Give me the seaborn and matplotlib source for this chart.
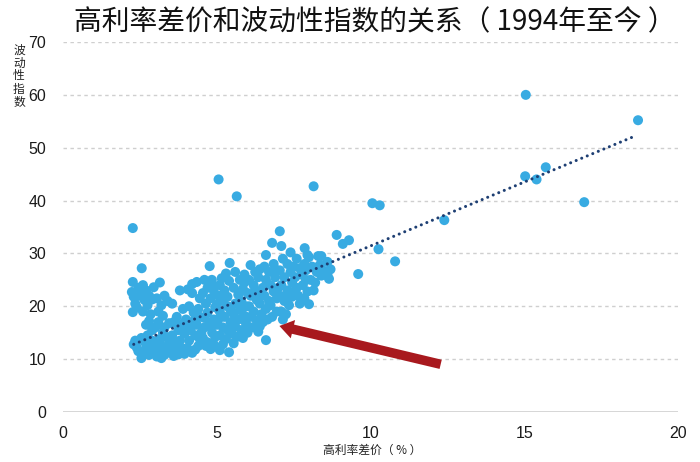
import numpy as np
import pandas as pd
import matplotlib
matplotlib.use("Agg")
import matplotlib.pyplot as plt
import seaborn as sns

# ---------------- data ----------------
spread = [
    2.27, 2.27, 2.24, 2.3, 2.35, 2.27, 2.4, 2.3, 2.4, 2.45, 2.35, 2.45, 2.5,
    2.56, 2.6, 2.7, 2.65, 2.8, 2.75, 2.6, 2.85, 2.9, 2.95, 2.55, 2.6, 2.7, 2.65, 2.8, 2.75, 2.85, 2.9, 2.95, 2.55, 2.7, 2.9, 2.8,
    3.15, 3.05, 3.2, 3.1, 3.3, 3.4, 3.25, 3.0, 3.05, 3.1, 3.2, 3.15, 3.3, 3.35, 3.25, 3.4, 3.45, 3.0, 3.1, 3.35, 3.45, 3.2, 3.3, 3.5,
    3.6, 3.65, 3.7, 3.8, 3.55, 3.75, 3.9, 3.85, 3.6, 3.95, 3.7, 3.8, 3.9, 3.55, 3.65, 3.75, 3.95, 3.85, 4.0, 3.9,
    4.06, 4.2, 4.35, 4.1, 4.25, 4.4, 4.05, 4.1, 4.2, 4.3, 4.15, 4.4, 4.35, 4.45, 4.25, 4.5, 4.1, 4.3, 4.45, 4.2, 4.45, 4.5,
    4.6, 4.77, 4.84, 4.7, 4.55, 4.9, 4.65, 4.8, 4.95, 4.6, 4.75, 4.9, 4.55, 4.7, 4.85, 4.95, 4.65, 4.8, 4.6, 4.9, 5.0, 4.7, 4.85,
    5.06, 5.16, 5.3, 5.42, 5.1, 5.25, 5.4, 5.05, 5.2, 5.35, 5.1, 5.25, 5.45, 5.05, 5.2, 5.35, 5.45, 5.1, 5.3, 5.1, 5.4, 5.2, 5.5, 5.35, 5.0,
    5.65, 5.6, 5.75, 5.9, 5.55, 5.7, 5.85, 5.6, 5.8, 5.95, 5.55, 5.7, 5.9, 5.6, 5.8, 5.95, 5.65, 5.85, 5.55, 6.0, 5.75, 5.9,
    6.1, 6.25, 6.4, 6.05, 6.2, 6.35, 6.5, 6.1, 6.3, 6.45, 6.05, 6.2, 6.4, 6.1, 6.3, 6.45, 6.15, 6.35, 6.0, 6.5, 6.25, 6.4,
    6.6, 6.8, 6.55, 6.7, 6.85, 6.6, 6.75, 6.9, 6.55, 6.7, 6.85, 6.6, 6.75, 6.95, 6.65, 6.8, 6.6, 6.9, 7.0, 6.95,
    7.05, 7.1, 7.4, 7.15, 7.3, 7.05, 7.2, 7.4, 7.1, 7.3, 7.45, 7.05, 7.2, 7.35, 7.1, 7.25, 7.45, 7.5, 7.3, 7.15,
    7.86, 7.95, 7.6, 7.7, 7.85, 7.55, 7.75, 7.9, 7.6, 7.8, 7.95, 7.65, 7.85, 8.0, 7.7, 7.55, 7.9,
    8.0, 8.3, 8.4, 8.15, 8.1, 8.25, 8.4, 8.05, 8.2, 8.35, 8.15, 8.45,
    8.6, 8.6, 8.65, 8.7, 8.9,
    9.1, 9.3, 9.6, 10.06, 10.3, 10.26, 10.8,
    12.4, 15.05, 15.03, 15.4, 15.7, 16.95, 18.7,
]
volatility = [
    34.8, 24.6, 22.7, 21.8, 20.5, 18.9, 19.8, 12.8, 12.2, 11.5, 13.5, 23.5, 22.0,
    27.2, 24.0, 23.0, 21.2, 22.0, 20.2, 19.0, 18.5, 21.3, 23.6, 10.2, 11.0, 12.0, 13.3, 10.8, 14.5, 12.5, 15.5, 11.5, 14.0, 16.5, 13.5, 17.2,
    24.5, 21.5, 20.2, 19.0, 22.0, 21.0, 18.2, 16.0, 10.5, 11.5, 12.5, 13.8, 10.8, 12.0, 15.0, 14.0, 16.8, 13.0, 17.0, 11.2, 13.0, 10.2, 16.0, 11.5,
    10.6, 12.5, 11.5, 13.5, 14.5, 15.5, 12.0, 16.5, 17.0, 14.8, 18.0, 23.0, 19.5, 20.5, 13.2, 10.9, 11.0, 11.8, 17.5, 15.8,
    23.2, 24.2, 24.6, 20.0, 18.8, 19.5, 12.0, 13.5, 11.2, 14.5, 15.5, 12.5, 16.5, 13.8, 17.2, 15.0, 16.8, 11.8, 18.0, 22.5, 21.5, 12.8,
    25.0, 27.6, 25.0, 23.5, 22.5, 23.0, 20.5, 21.5, 19.8, 17.8, 16.5, 17.5, 14.0, 13.2, 15.0, 14.2, 12.5, 11.9, 16.0, 12.8, 16.5, 18.8, 24.2,
    44.0, 25.3, 26.2, 28.2, 24.0, 23.0, 24.8, 22.0, 21.0, 20.0, 19.0, 18.0, 19.2, 17.5, 16.0, 15.5, 17.0, 14.5, 13.8, 11.7, 11.3, 12.8, 14.8, 21.8, 20.3,
    40.8, 26.5, 25.0, 26.0, 23.5, 22.2, 23.3, 20.5, 21.0, 20.0, 18.5, 17.5, 18.2, 16.2, 15.5, 16.8, 14.2, 14.0, 13.0, 22.5, 19.3, 24.5,
    27.8, 26.5, 27.0, 25.0, 24.0, 25.5, 23.5, 22.0, 21.2, 22.5, 20.0, 19.0, 20.5, 18.0, 17.3, 18.5, 16.0, 15.2, 15.0, 17.0, 23.0, 16.2,
    29.7, 32.0, 27.5, 26.5, 28.0, 25.0, 24.0, 25.5, 22.0, 21.0, 22.8, 19.5, 20.2, 19.0, 17.5, 18.0, 13.6, 27.0, 23.5, 21.5,
    34.2, 31.4, 30.2, 29.0, 28.0, 26.8, 25.5, 26.5, 24.0, 23.0, 24.5, 22.0, 21.0, 20.2, 19.0, 18.5, 21.8, 27.5, 22.5, 17.5,
    31.0, 29.7, 29.0, 27.2, 28.0, 25.5, 26.0, 25.0, 23.5, 24.0, 22.8, 22.0, 21.5, 20.4, 20.5, 23.0, 26.8,
    29.3, 29.5, 29.5, 42.7, 27.5, 26.5, 25.8, 25.0, 24.5, 27.8, 23.0, 26.8,
    28.4, 26.0, 25.2, 27.0, 33.5,
    31.8, 32.5, 26.1, 39.5, 39.1, 30.8, 28.5,
    36.3, 60.0, 44.6, 44.0, 46.3, 39.7, 55.2,
]
trend_x = [2.3, 18.6]
trend_y = [12.8, 52.2]
arrow_tail = (12.37, 8.9)
arrow_head = (6.95, 16.4)

x_ticks = [0, 5, 10, 15, 20]
y_ticks = [0, 10, 20, 30, 40, 50, 60, 70]

title = "高利率差价和波动性指数的关系（ 1994年至今 ）"
x_label = "高利率差价（ % ）"
y_label = "波动性指数"

df = pd.DataFrame({"spread": spread, "volatility": volatility})
trend = pd.DataFrame({"x": trend_x, "y": trend_y})

# ---------------- plot ----------------
sns.set_style("white")
plt.rcParams["font.family"] = ["Liberation Sans", "Noto Sans CJK SC", "DejaVu Sans"]
cjk = ["Noto Sans CJK SC", "DejaVu Sans"]

fig = plt.figure(figsize=(7.0, 4.62), dpi=100)
ax = fig.add_axes([63 / 700, 1 - 412 / 462, (678 - 63) / 700, (412 - 42) / 462])

for yv in y_ticks[1:]:
    ax.axhline(yv, color="#cfcfcf", lw=1.0, ls=(0, (2.5, 2.5)), zorder=0)
ax.axhline(0, color="#d0d0d0", lw=1.2, zorder=0)

sns.scatterplot(data=df, x="spread", y="volatility", ax=ax, s=52,
                color="#38ABE2", edgecolor="none", linewidth=0, zorder=2)
sns.lineplot(data=trend, x="x", y="y", ax=ax, color="#1E3F73", lw=2.2,
             linestyle=(0, (0.01, 1.95)), dash_capstyle="round", zorder=3)

ax.annotate("", xy=arrow_head, xytext=arrow_tail,
            arrowprops=dict(arrowstyle="simple,head_width=1.35,head_length=1.0,tail_width=0.68",
                            mutation_scale=10, color="#A8191E", lw=0),
            zorder=4)

ax.set_xlim(0, 20)
ax.set_ylim(0, 70)
ax.set_xticks(x_ticks)
ax.set_yticks(y_ticks)
ax.set_xticklabels([str(v) for v in x_ticks])
ax.set_yticklabels([str(v) for v in y_ticks])
ax.tick_params(axis="both", length=0, labelsize=11.5, colors="#1a1a1a")
ax.tick_params(axis="y", pad=12)
ax.tick_params(axis="x", pad=10)
for s in ax.spines.values():
    s.set_visible(False)
ax.set_xlabel("")
ax.set_ylabel("")

fig.text(372 / 700, 1 - 450 / 462, x_label, ha="center", va="center",
         fontsize=8.5, family=cjk, color="#222222")
fig.text(19 / 700, 1 - 76 / 462, "\n".join(y_label), ha="center", va="center",
         fontsize=8.5, family=cjk, color="#222222", linespacing=1.0)
fig.text(375 / 700, 1 - 22 / 462, title, ha="center", va="center",
         fontsize=20, family=cjk, color="#111111")

fig.savefig("out.png", dpi=100)
